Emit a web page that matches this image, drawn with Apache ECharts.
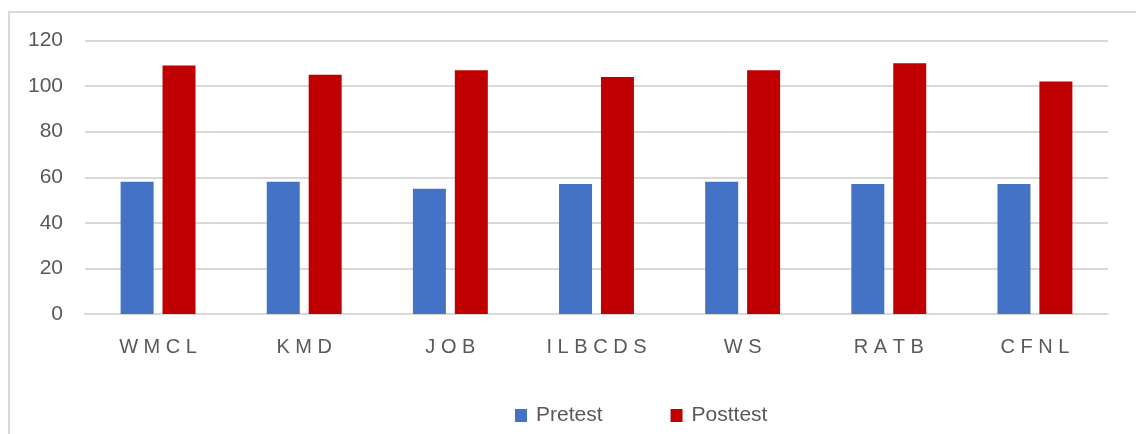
<!DOCTYPE html>
<html>
<head>
<meta charset="utf-8">
<script src="https://cdn.jsdelivr.net/npm/echarts@6/dist/echarts.min.js"></script>
<style>
  html, body { margin: 0; padding: 0; background: #fff; }
  #frame {
    position: absolute; left: 8px; top: 11px; width: 1200px; height: 500px;
    border-left: 2px solid #d9d9d9; border-top: 2px solid #d9d9d9;
  }
  #box { position: absolute; left: 0; top: 0; width: 1136px; height: 434px; }
</style>
</head>
<body>
<div id="frame"></div>
<div id="box"></div>
<script>
const categories = ['W M C L', 'K M D', 'J O B', 'I L B C D S', 'W S', 'R A T B', 'C F N L'];
const pretest = [58, 58, 55, 57, 58, 57, 57];
const posttest = [109, 105, 107, 104, 107, 110, 102];
const yTicks = { min: 0, max: 120, interval: 20 };

let myecharts = echarts.init(document.getElementById('box'));
let options = {
  animation: false,
  textStyle: { fontFamily: 'Liberation Sans, Arial, sans-serif' },
  grid: {
    left: 85,
    right: 28,
    top: 40.5,
    bottom: 120
  },
  legend: {
    left: 510,
    top: 400,
    itemWidth: 12,
    itemHeight: 13,
    itemGap: 68,
    icon: 'rect',
    textStyle: { color: '#595959', fontSize: 21, padding: [0, 0, 0, 4] },
    data: ['Pretest', 'Posttest']
  },
  xAxis: {
    type: 'category',
    data: categories,
    axisLine: { lineStyle: { color: '#d9d9d9', width: 2 } },
    axisTick: { show: false },
    axisLabel: { color: '#595959', fontSize: 20, margin: 23 }
  },
  yAxis: {
    type: 'value',
    min: yTicks.min,
    max: yTicks.max,
    interval: yTicks.interval,
    axisLine: { show: false },
    axisTick: { show: false },
    axisLabel: { color: '#595959', fontSize: 21, margin: 22 },
    splitLine: { lineStyle: { color: '#d9d9d9', width: 2 } }
  },
  series: [
    {
      name: 'Pretest',
      type: 'bar',
      data: pretest,
      barWidth: 33,
      barGap: '27%',
      itemStyle: { color: '#4472C4' }
    },
    {
      name: 'Posttest',
      type: 'bar',
      data: posttest,
      barWidth: 33,
      itemStyle: { color: '#C00000' }
    }
  ]
};
myecharts.setOption(options);
window.onresize = function () {
  myecharts.resize();
};
</script>
</body>
</html>
